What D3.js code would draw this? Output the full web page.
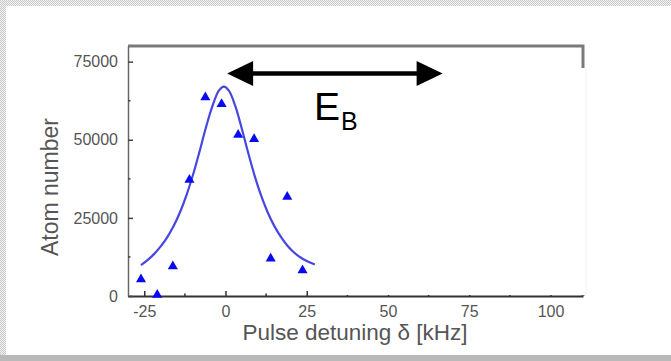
<!DOCTYPE html>
<html>
<head>
<meta charset="utf-8">
<script src="https://cdn.jsdelivr.net/npm/d3@7"></script>
<style>
  html, body { margin: 0; padding: 0; background: #fff; }
  svg { display: block; }
  text { font-family: "Liberation Sans", Arial, Helvetica, sans-serif; }
</style>
</head>
<body>
<svg id="chart" width="671" height="361"></svg>
<script>
// Measured atom numbers vs pulse detuning (kHz)
const detuning = [-26, -21, -16.2, -11.1, -6.2, -1.2, 3.9, 8.8, 13.9, 19.0, 23.7];
const atoms    = [5300, 400, 9500, 37200, 63600, 61400, 51600, 50200, 12000, 31700, 8200];

// Fitted resonance line
const fitDetuning = [-26, -24, -22, -20, -18, -16, -14, -12, -10, -8, -6, -4, -2, -0.5,
                     1, 3, 5, 7, 9, 11, 13, 15, 17, 19, 21, 23, 25, 27.5];
const fitAtoms    = [9900, 11500, 13400, 15800, 18700, 22300, 26800, 32300, 38800, 46200, 54000, 60840, 65780, 67000,
                     65780, 60840, 53600, 45740, 38370, 32010, 26730, 22440, 18980, 16170, 14000, 12400, 11200, 10100];

const xTicks = [-25, 0, 25, 50, 75, 100];
const xMinorTicks = [-12.5, 12.5, 37.5, 62.5, 87.5];
const yTicks = [0, 25000, 50000, 75000];
const yMinorTicks = [12500, 37500, 62500];

const xDomain = [-30, 110];
const yDomain = [0, 80000];

const svg = d3.select("#chart");
const W = 671, H = 361;

// dotted page border
const defs = svg.append("defs");
const pat = defs.append("pattern").attr("id", "dots")
  .attr("width", 2).attr("height", 2).attr("patternUnits", "userSpaceOnUse");
pat.append("rect").attr("width", 2).attr("height", 2).attr("fill", "#f4f4f4");
pat.append("rect").attr("width", 1).attr("height", 1).attr("fill", "#c8c8c8");
pat.append("rect").attr("x", 1).attr("y", 1).attr("width", 1).attr("height", 1).attr("fill", "#c8c8c8");

svg.append("rect").attr("width", W).attr("height", H).attr("fill", "url(#dots)");
svg.append("rect").attr("x", 0).attr("y", 355).attr("width", W).attr("height", 6).attr("fill", "#b9b9b9");
svg.append("rect").attr("x", 6).attr("y", 6).attr("width", W - 6).attr("height", 349).attr("fill", "#fff");

const x = d3.scaleLinear().domain(xDomain).range([128, 583]);
const y = d3.scaleLinear().domain(yDomain).range([296, 46]);

// frame: top and right edges
svg.append("path")
  .attr("d", `M${x(xDomain[0])},${y(yDomain[1])}H${x(xDomain[1])}V${y(yDomain[0])}`)
  .attr("fill", "none").attr("stroke", "#7a7a7a").attr("stroke-width", 3);

// bottom axis
const gx = svg.append("g").attr("transform", `translate(0,${y(0)})`)
  .call(d3.axisBottom(x).tickValues(xTicks).tickSize(-5).tickSizeOuter(0).tickPadding(10)
        .tickFormat(d3.format("d")));
gx.select(".domain").attr("stroke", "#333").attr("stroke-width", 2);
gx.selectAll(".tick line").attr("stroke", "#333").attr("stroke-width", 1.5);
gx.selectAll(".tick text").attr("font-size", 16).attr("fill", "#555").text(d => d < 0 ? "-" + Math.abs(d) : d);
gx.selectAll(".minor").data(xMinorTicks).enter().append("line")
  .attr("x1", d => x(d)).attr("x2", d => x(d)).attr("y1", 0).attr("y2", -2.5)
  .attr("stroke", "#333").attr("stroke-width", 1.5);

// left axis
const gy = svg.append("g").attr("transform", `translate(${x(xDomain[0])},0)`)
  .call(d3.axisLeft(y).tickValues(yTicks).tickSize(-5).tickSizeOuter(0).tickPadding(10)
        .tickFormat(d3.format("d")));
gy.select(".domain").attr("stroke", "#666").attr("stroke-width", 1.5);
gy.selectAll(".tick line").attr("stroke", "#444").attr("stroke-width", 1.5);
gy.selectAll(".tick text").attr("font-size", 16).attr("fill", "#555");
gy.selectAll(".minor").data(yMinorTicks).enter().append("line")
  .attr("y1", d => y(d)).attr("y2", d => y(d)).attr("x1", 0).attr("x2", 2.5)
  .attr("stroke", "#444").attr("stroke-width", 1.5);

// axis titles
svg.append("text").attr("x", 355).attr("y", 340).attr("text-anchor", "middle")
  .attr("font-size", 22.5).attr("fill", "#555").text("Pulse detuning δ [kHz]");
svg.append("text").attr("transform", "translate(58,187) rotate(-90)").attr("text-anchor", "middle")
  .attr("font-size", 23).attr("fill", "#555").text("Atom number");

// fitted curve
const line = d3.line().x((d, i) => x(fitDetuning[i])).y(d => y(d)).curve(d3.curveCatmullRom);
svg.append("path").datum(fitAtoms).attr("d", line)
  .attr("fill", "none").attr("stroke", "#4646e0").attr("stroke-width", 2.2);

// data points
svg.append("g").selectAll("path").data(detuning).enter().append("path")
  .attr("transform", (d, i) => `translate(${x(d)},${y(atoms[i])})`)
  .attr("d", d3.symbol().type(d3.symbolTriangle).size(44))
  .attr("fill", "#0a0af0");

// cover panel over the right part of the plot
svg.append("rect").attr("x", 315).attr("y", 68).attr("width", 271).attr("height", 227)
  .attr("fill", "#fff");
svg.append("line").attr("x1", 586).attr("x2", 586).attr("y1", 68).attr("y2", 295)
  .attr("stroke", "#f0f0f0").attr("stroke-width", 1);

// binding energy arrow
const arrowY = 73.5;
const ax1 = x(0.5), ax2 = x(66.8);
svg.append("line").attr("x1", ax1 + 20).attr("x2", ax2 - 20).attr("y1", arrowY).attr("y2", arrowY)
  .attr("stroke", "#000").attr("stroke-width", 4.5);
svg.append("path").attr("d", `M${ax1},${arrowY}L${ax1 + 26},${arrowY - 12.5}L${ax1 + 26},${arrowY + 12.5}Z`).attr("fill", "#000");
svg.append("path").attr("d", `M${ax2},${arrowY}L${ax2 - 26},${arrowY - 12.5}L${ax2 - 26},${arrowY + 12.5}Z`).attr("fill", "#000");

const eb = svg.append("text").attr("x", 314).attr("y", 120).attr("fill", "#000");
eb.append("tspan").attr("font-size", 39).text("E");
eb.append("tspan").attr("font-size", 25).attr("dy", 10).attr("dx", 1).text("B");
</script>
</body>
</html>
